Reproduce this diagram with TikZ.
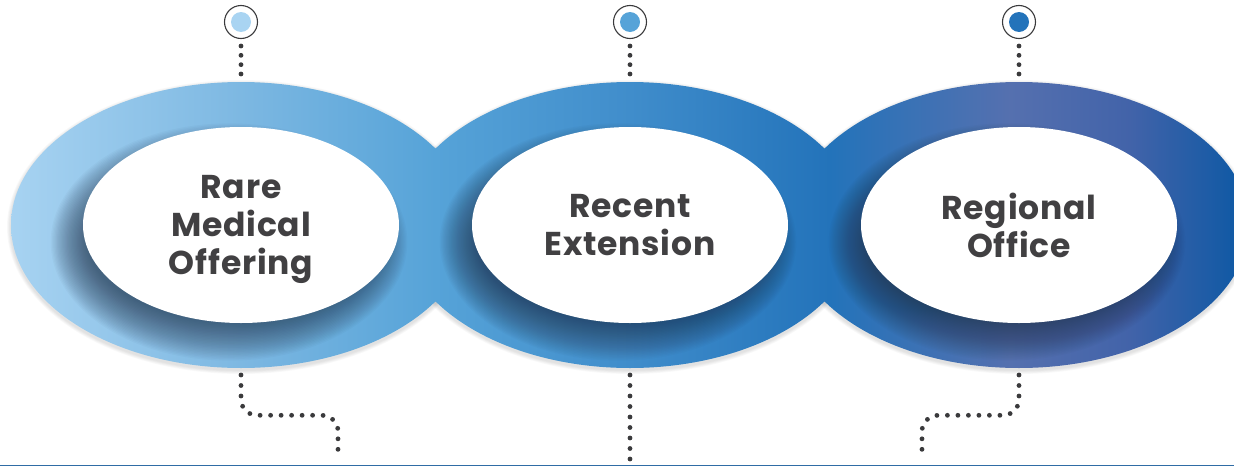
\documentclass[tikz,border=0pt]{standalone}
\usepackage{fontspec}
\newfontfamily\pinfont{Poppins}[LetterSpace=2.5]
\usetikzlibrary{shapes.geometric}

\definecolor{skyA}{HTML}{A9D4F2}
\definecolor{skyB}{HTML}{7DB8E2}
\definecolor{skyC}{HTML}{56A3D8}
\definecolor{skyD}{HTML}{408DCB}
\definecolor{skyE}{HTML}{2373BA}
\definecolor{skyF}{HTML}{5570AF}
\definecolor{skyG}{HTML}{4263A9}
\definecolor{skyH}{HTML}{0A58A4}
\definecolor{labelgray}{HTML}{414042}
\definecolor{dotgray}{HTML}{3A3A3C}
\definecolor{shadenavy}{HTML}{22324A}
\definecolor{floorblue}{HTML}{2F6CA5}

\tikzset{
  ring/.style={ellipse, minimum width=460pt, minimum height=286pt, inner sep=0pt, outer sep=0pt},
  hole/.style={ellipse, fill=white, minimum width=316pt, minimum height=196pt, inner sep=0pt,
    align=center, text=labelgray, text depth=0pt,
    font=\pinfont\bfseries\fontsize{33}{38}\selectfont},
  pin/.style={circle, draw=dotgray, line width=1.1pt, minimum size=33pt, inner sep=0pt, outer sep=0pt},
  dotline/.style={draw=dotgray, line width=4.8pt, line cap=round, dash pattern=on 0pt off #1},
  dotline/.default=10.5pt,
}

\begin{document}
\begin{tikzpicture}[x=1pt,y=-1pt]
      \useasboundingbox (0,0) rectangle (1234,466);

      \node[ring] (rareRing)     at (241,225) {};
      \node[ring] (recentRing)   at (630,225) {};
      \node[ring] (regionalRing) at (1019,225) {};

      % soft rim under the rings
      \foreach \r in {rareRing,recentRing,regionalRing}
        \foreach \k in {1,...,5}
          \fill[black, opacity=0.025] ([yshift=-2pt]\r.center) ellipse ({230+0.8*\k} and {143+0.8*\k});

      \begin{scope}
        \clip (rareRing.center) ellipse (230 and 143)
              (recentRing.center) ellipse (230 and 143)
              (regionalRing.center) ellipse (230 and 143);
        \foreach \xa/\xb/\ca/\cb in {0/240/skyA/skyB, 240/435/skyB/skyC, 435/630/skyC/skyD,
                                     630/830/skyD/skyE, 830/1010/skyE/skyF, 1010/1130/skyF/skyG,
                                     1130/1250/skyG/skyH}
          \shade[left color=\ca, right color=\cb] (\xa-0.3,70) rectangle (\xb+0.3,380);
        % inner shadows, heavier to the lower left
        \foreach \r in {rareRing,recentRing,regionalRing}
          \foreach \k in {0,...,29}
            \fill[shadenavy, opacity=0.03] ([xshift=-12pt,yshift=-17pt]\r.center)
              ellipse ({142+1.25*\k} and {78+1.4*\k});
      \end{scope}

      \node[hole] (rare)     at (rareRing.center)     {Rare\\Medical\\Offering};
      \node[hole] (recent)   at (recentRing.center)   {Recent\\Extension};
      \node[hole] (regional) at (regionalRing.center) {Regional\\Office};

      \node[pin] (rarePin)     at (241,22) {};
      \node[pin] (recentPin)   at (630,22) {};
      \node[pin] (regionalPin) at (1019,22) {};
      \fill[skyA] (rarePin) circle (10pt);
      \fill[skyC] (recentPin) circle (10pt);
      \fill[skyE] (regionalPin) circle (10pt);

      \draw[dotline=9.33pt] ([yshift=-7.5pt]rarePin.south) -- ([yshift=7.2pt]rareRing.north);
      \draw[dotline=9.33pt] ([yshift=-7.5pt]recentPin.south) -- ([yshift=7.2pt]recentRing.north);
      \draw[dotline=9.33pt] ([yshift=-7.5pt]regionalPin.south) -- ([yshift=7.2pt]regionalRing.north);

      \coordinate (rareFoot)     at (338,459.3);
      \coordinate (recentFoot)   at (630,459.3);
      \coordinate (regionalFoot) at (922,459.3);

      \draw[dotline, rounded corners=16pt] ([yshift=-7pt]rareRing.south) |- ([yshift=44pt]rareFoot) -- (rareFoot);
      \draw[dotline] ([yshift=-7pt]recentRing.south) -- (recentFoot);
      \draw[dotline, rounded corners=16pt] ([yshift=-7pt]regionalRing.south) |- ([yshift=44pt]regionalFoot) -- (regionalFoot);

      \draw[floorblue, line width=1.3pt] (0,465.4) -- (1234,465.4);
    \end{tikzpicture}
\end{document}
